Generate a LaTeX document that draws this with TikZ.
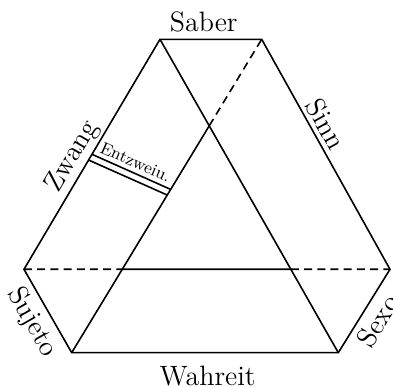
\documentclass[tikz,border=0pt]{standalone}
\usetikzlibrary{calc}
\begin{document}
\begin{tikzpicture}[x=0.5pt,y=0.5pt,line width=0.8pt,
        tratto/.style={dash pattern=on 4pt off 2.6pt},
        nome/.style={font=\fontsize{14}{16}\selectfont,inner sep=0pt},
        piccolo/.style={font=\fontsize{8.5}{10}\selectfont,inner sep=0pt}]
        \useasboundingbox (0,0) rectangle (393,387);
        %vertici esagono
        \coordinate (TL) at (160,347.7);
        \coordinate (TR) at (261.7,347.7);
        \coordinate (R) at (390,117.7);
        \coordinate (BR) at (338.3,34.3);
        \coordinate (BL) at (71.7,34.3);
        \coordinate (L) at (24,117.7);
        %incroci
        \coordinate (A) at (intersection of TL--BR and BL--TR);
        \coordinate (X1) at (intersection of L--R and BL--TR);
        \coordinate (X2) at (intersection of L--R and TL--BR);
        %esagono e nomi dei lati
        \draw (TL) -- node[nome,above=3.3pt,pos=0.43]{Saber} (TR)
            -- node[nome,sloped,above=2pt,pos=0.4]{Sinn} (R)
            -- node[nome,sloped,below=3pt,pos=0.51]{Sexo} (BR)
            -- node[nome,below=6.5pt,pos=0.49]{Wahreit} (BL)
            -- node[nome,sloped,below=3pt,pos=0.48]{Sujeto} (L)
            -- node[nome,sloped,above=1.3pt,pos=0.455]{Zwang} (TL) -- cycle;
        %diagonali
        \draw (TL) -- (BR);
        \draw (BL) -- (A);
        \draw[tratto] (A) -- (TR);
        %orizzontale
        \draw[tratto] (L) -- (X1);
        \draw (X1) -- (X2);
        \draw[tratto] (X2) -- (R);
        %doppia linea
        \coordinate (E1) at ($(L)!0.50!(TL)$);
        \coordinate (E2) at ($(BL)!0.521!(TR)$);
        \coordinate (E3) at ($(L)!0.475!(TL)$);
        \coordinate (E4) at ($(BL)!0.503!(TR)$);
        \draw (E1) -- node[piccolo,sloped,above=2pt]{Entzweiu.} (E2);
        \draw (E3) -- (E4);
\end{tikzpicture}
\end{document}
